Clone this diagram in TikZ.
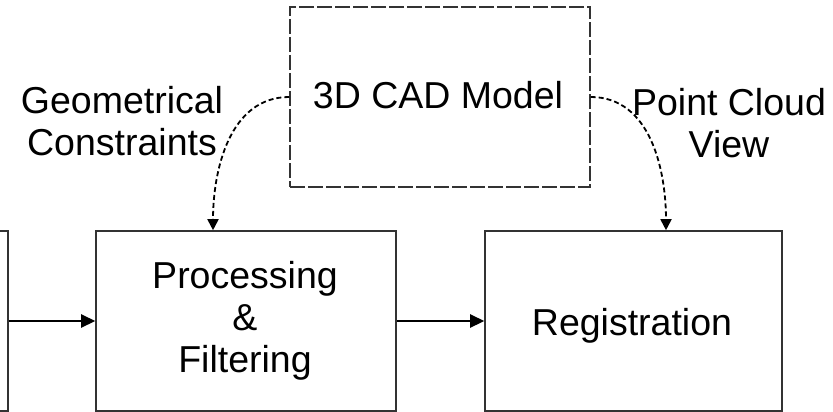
\documentclass[tikz,border=0pt]{standalone}
\usepackage{fontspec}
\setmainfont{Liberation Sans}
\usetikzlibrary{arrows.meta}

\tikzset{
  block/.style={draw=black!80, line width=1.6pt, inner sep=0pt},
  cadbox/.style={draw=black!80, line width=1.4pt, inner sep=0pt,
    dash pattern=on 15pt off 3pt},
  lbl/.style={font=\fontsize{37.5}{42}\selectfont, inner sep=0pt, align=center},
  flow/.style={line width=2.6pt, -{Triangle[length=14pt,width=13pt]}},
  hint/.style={line width=1.8pt, dash pattern=on 5pt off 3pt,
    -{Triangle[length=11pt,width=11pt]}}
}

\begin{document}
\begin{tikzpicture}[x=1pt,y=-1pt]
  \useasboundingbox (0,0) rectangle (833,412);
  \clip (0,0) rectangle (833,412);

  % processing chain
  \node[block, minimum width=120pt, minimum height=180pt] (src) at (-52,321) {};
  \node[block, minimum width=300pt, minimum height=180pt] (proc) at (246,321) {};
  \node[block, minimum width=297pt, minimum height=180pt] (reg) at (633.5,321) {};

  % model box
  \node[cadbox, minimum width=300pt, minimum height=180pt] (cad) at (440,97) {};

  % texts (a multi-line node's base is the baseline of its last line)
  \node[lbl, anchor=base] (cadtxt) at (438,109) {3D CAD Model};
  \node[lbl, anchor=base] (proctxt) at (245,372) {Processing\\\&\\Filtering};
  \node[lbl, anchor=base] (regtxt) at (632,335) {Registration};
  \node[lbl, anchor=base] (geo) at (122,155) {Geometrical\\Constraints};
  \node[lbl, anchor=base] (pcv) at (729,157) {Point Cloud\\View};

  % connectors
  \draw[flow] (src.east) -- (proc.west);
  \draw[flow] (proc.east) -- (reg.west);
  \draw[hint] (cad.west) to[out=180,in=90] ([xshift=-33pt]proc.north);
  \draw[hint] (cad.east) to[out=0,in=90] ([xshift=32.5pt]reg.north);
\end{tikzpicture}
\end{document}
